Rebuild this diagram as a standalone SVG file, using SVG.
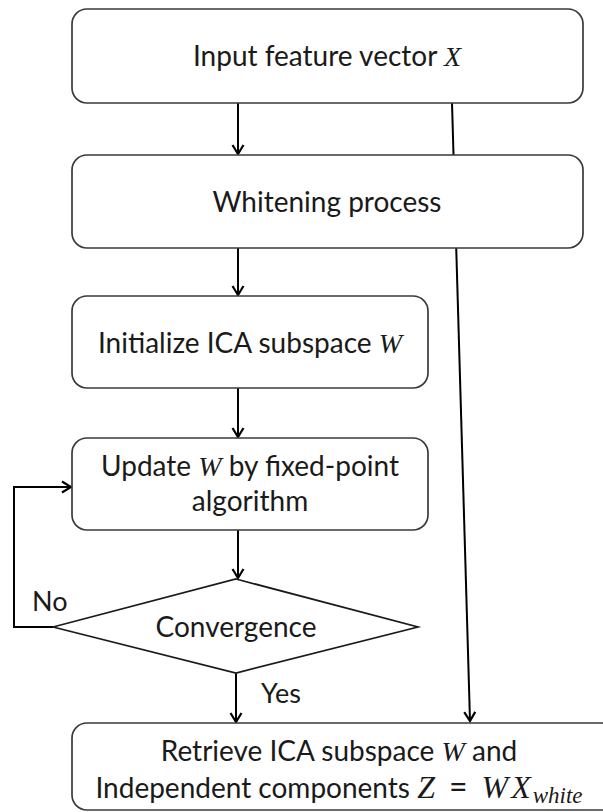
<svg xmlns="http://www.w3.org/2000/svg" width="603" height="812" viewBox="0 0 603 812">
<style>
.box{fill:#fff;stroke:#3a3a3a;stroke-width:1.7}
.dia{fill:#fff;stroke:#1a1a1a;stroke-width:1.7}
.t{font-family:Lato,"Noto Sans",sans-serif;font-size:28px;fill:#1a1a1a;text-anchor:middle}
.tl{font-family:Lato,"Noto Sans",sans-serif;font-size:27px;fill:#1a1a1a}
.m{font-family:"Liberation Serif","DejaVu Serif",serif;font-style:italic}
.c{fill:none;stroke:#000;stroke-width:2}
</style>
<defs>
<marker id="ah" markerWidth="14" markerHeight="14" refX="12" refY="7" orient="auto" markerUnits="userSpaceOnUse">
<path d="M3,1.5 L12,7 L3,12.5" fill="none" stroke="#000" stroke-width="2.2"/>
</marker>
</defs>
<g id="connectors">
<line class="c" x1="452" y1="103" x2="470" y2="721" marker-end="url(#ah)"/>
<line class="c" x1="238" y1="103" x2="238" y2="154" marker-end="url(#ah)"/>
<line class="c" x1="238" y1="248" x2="238" y2="295" marker-end="url(#ah)"/>
<line class="c" x1="238" y1="388" x2="238" y2="437" marker-end="url(#ah)"/>
<line class="c" x1="238" y1="530" x2="238" y2="578" marker-end="url(#ah)"/>
<line class="c" x1="236" y1="673" x2="236" y2="722" marker-end="url(#ah)"/>
<polyline class="c" points="53,627 14,627 14,487 71,487" marker-end="url(#ah)"/>
</g>
<g id="n1"><rect class="box" x="72" y="9" width="511" height="94" rx="15"/>
<text class="t" x="327" y="66">Input feature vector <tspan class="m">X</tspan></text></g>
<g id="n2"><rect class="box" x="72" y="155" width="511" height="93" rx="15"/>
<text class="t" x="327" y="212">Whitening process</text></g>
<g id="n3"><rect class="box" x="72" y="296" width="356" height="92" rx="15"/>
<text class="t" x="250" y="353">Initialize ICA subspace <tspan class="m">W</tspan></text></g>
<g id="n4"><rect class="box" x="72" y="438" width="356" height="92" rx="15"/>
<text class="t" x="250" y="476">Update <tspan class="m">W</tspan> by fixed-point</text>
<text class="t" x="250" y="511">algorithm</text></g>
<g id="n5"><polygon class="dia" points="236,579 418,627 236,673 53,627"/>
<text class="t" x="236" y="637">Convergence</text></g>
<g id="n6"><rect class="box" x="72" y="723" width="545" height="87" rx="15"/>
<text class="t" x="339" y="761">Retrieve ICA subspace <tspan class="m">W</tspan> and</text>
<text class="t" x="339" y="798">Independent components <tspan class="m" font-size="32">Z</tspan><tspan font-size="32" dx="14">=</tspan><tspan class="m" font-size="32" dx="14">W</tspan><tspan class="m" font-size="32" dx="3">X</tspan><tspan class="m" font-size="23" dy="5" dx="2">white</tspan></text></g>
<g id="labels">
<text class="tl" x="32" y="611">No</text>
<text class="tl" x="261" y="703">Yes</text>
</g>
</svg>
